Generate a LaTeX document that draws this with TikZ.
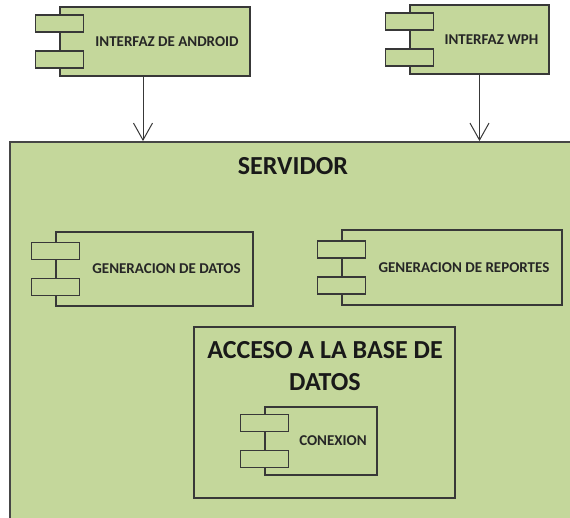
\documentclass[tikz,border=0pt]{standalone}
\usepackage{fontspec}
\setmainfont{Carlito}
\usetikzlibrary{arrows.meta}
\definecolor{verde}{HTML}{C4D79B}
\definecolor{borde}{HTML}{383838}
\tikzset{
 caja/.style={draw=borde, fill=verde, line width=1.2pt, inner sep=0pt},
 pestana/.style={caja, minimum width=48pt, minimum height=17pt},
 etiqueta/.style={font=\bfseries\fontsize{15}{18}\selectfont, text=black!85},
 titulo/.style={font=\bfseries\fontsize{26}{32}\selectfont, align=center, text=black!90},
 flecha/.style={-{Straight Barb[length=17pt,width=19pt]}, line width=1pt, draw=borde}
}
\newcommand{\componente}[5]{%
 \node[caja, minimum width=#3, minimum height=#4] (#1) at #2 {};
 \node[pestana] (#1-p1) at ([yshift=18pt]#1.west) {};
 \node[pestana] (#1-p2) at ([yshift=-18pt]#1.west) {};
 \node[etiqueta] (#1-t) at ([xshift=12pt]#1.center) {#5};
}
\begin{document}
\begin{tikzpicture}[x=1pt,y=-1pt]
\useasboundingbox (0,0) rectangle (570,518);
\node[caja, draw=gray!55!black, line width=1.8pt, minimum width=566pt, minimum height=380pt] (servidor) at (293,332) {};
\node[titulo] (servidor-t) at (293,166) {SERVIDOR};
\componente{android}{(155,41.5)}{190pt}{69pt}{INTERFAZ DE ANDROID}
\componente{wph}{(479.5,39.5)}{139pt}{69pt}{INTERFAZ WPH}
\componente{datos}{(154.5,269)}{197pt}{74pt}{GENERACION DE DATOS}
\componente{reportes}{(452,267.5)}{220pt}{75pt}{GENERACION DE REPORTES}
\node[caja, minimum width=261pt, minimum height=171pt] (acceso) at (324.5,412.5) {};
\node[titulo] (acceso-t) at (325,366) {ACCESO A LA BASE DE\\DATOS};
\componente{conexion}{(321,441)}{112pt}{68pt}{CONEXION}
\draw[flecha] ([xshift=-12pt]android.south) -- ([xshift=-12pt]android.south |- servidor.north);
\draw[flecha] (wph.south) -- (wph.south |- servidor.north);
\end{tikzpicture}
\end{document}
